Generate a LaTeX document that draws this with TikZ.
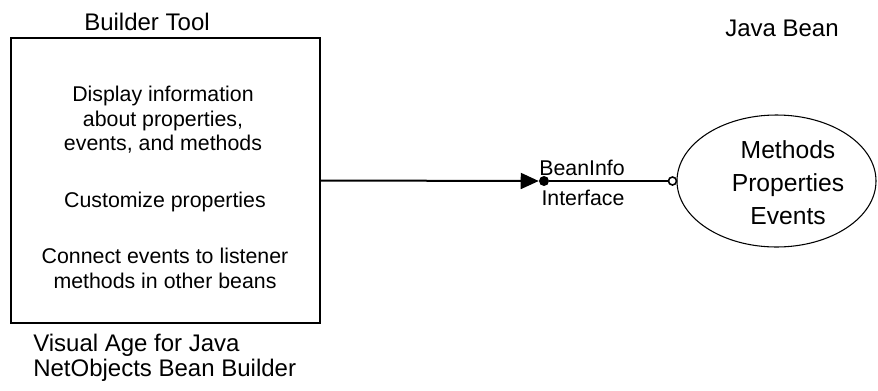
\documentclass[tikz,border=0pt]{standalone}
\usepackage{fontspec}
\setmainfont{Liberation Sans}
\usetikzlibrary{shapes.geometric,arrows.meta}
\tikzset{
  lbl/.style={inner sep=0pt, font=\fontsize{18}{18.75}\selectfont, align=left},
  boxtxt/.style={inner sep=0pt, font=\fontsize{16}{18.4}\selectfont, align=center},
  conn/.style={line width=1.5pt},
}
\begin{document}
\begin{tikzpicture}[x=0.75pt,y=-0.75pt]
\useasboundingbox (0,0) rectangle (878,390);
% builder box
\draw[line width=0.8pt] (11,38) rectangle (320,323);
\coordinate (boxE) at (320,180.5);
\node[lbl] (bt) at (147,22) {Builder Tool};
\node[boxtxt] (t1) at (163,120) {Display information\\about properties,\\events, and methods};
\node[boxtxt] (t2) at (165,202) {Customize properties};
\node[boxtxt] (t3) at (165,268.5) {Connect events to listener\\methods in other beans};
\node[lbl, anchor=west] (va) at (33,357.5) {Visual Age for Java\\NetObjects Bean Builder};
\node[lbl] (jb) at (782,28) {Java Bean};
% ellipse
\node[ellipse, draw, line width=0.8pt, minimum width=149.25pt, minimum height=99pt, inner sep=0pt] (bean) at (776.5,181) {};
\node[inner sep=0pt, font=\fontsize{18.5}{24.75}\selectfont, align=center] (bt2) at (788,182.5) {Methods\\Properties\\Events};
% connector
\node[circle, fill=black, inner sep=0pt, minimum size=7.5pt] (dot) at (544,181) {};
\node[circle, draw, fill=white, line width=1.2pt, inner sep=0pt, minimum size=6pt] (oc) at (bean.west) [xshift=-3pt] {};
\draw[conn, -{Triangle[length=13.5pt, width=12pt]}] (boxE) -- (dot.west);
\draw[conn] (dot.east) -- (oc.west);
\node[boxtxt] (bi) at (582,168) {BeanInfo};
\node[boxtxt] (if) at (583,198) {Interface};
\end{tikzpicture}
\end{document}
